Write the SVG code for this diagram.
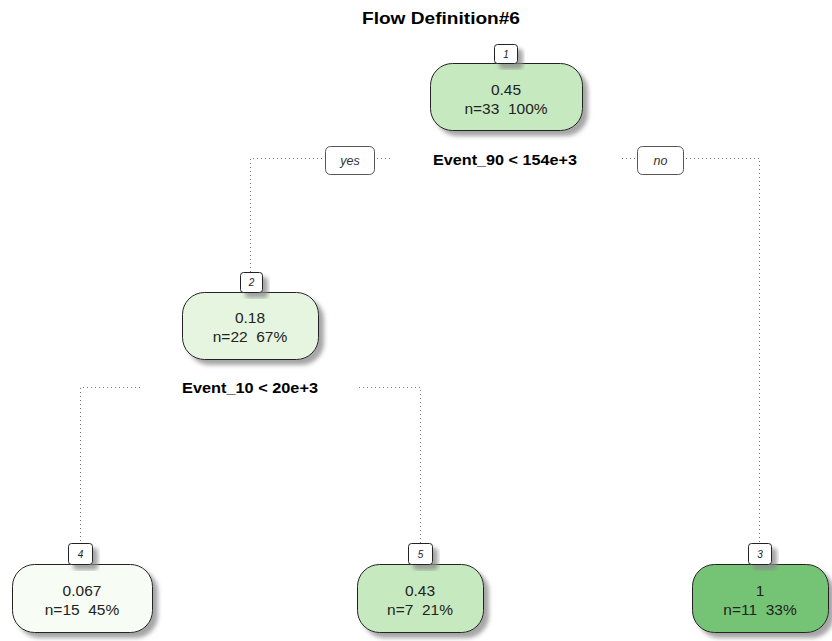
<svg xmlns="http://www.w3.org/2000/svg" width="832" height="641" viewBox="0 0 832 641">
  <defs>
    <filter id="shadow" x="-20%" y="-20%" width="150%" height="150%">
      <feGaussianBlur in="SourceAlpha" stdDeviation="2"/>
      <feOffset dx="5" dy="5" result="b"/>
      <feFlood flood-color="#888" flood-opacity="0.75"/>
      <feComposite in2="b" operator="in" result="s"/>
      <feMerge><feMergeNode in="s"/><feMergeNode in="SourceGraphic"/></feMerge>
    </filter>
  </defs>
  <style>
    text { white-space: pre; }
    .title { font-family: "Liberation Sans", Arial, sans-serif; font-size: 17px; font-weight: bold; fill: #000; text-anchor: middle; }
    .box { stroke: #222; stroke-width: 1; filter: url(#shadow); }
    .val { font-family: "Liberation Sans", Arial, sans-serif; font-size: 15.5px; fill: #222; text-anchor: middle; }
    .tag { fill: #fff; stroke: #222; stroke-width: 1; filter: url(#shadow); }
    .tagtxt { font-family: "Liberation Sans", Arial, sans-serif; font-size: 10px; font-style: italic; fill: #222; text-anchor: middle; }
    .split { font-family: "Liberation Sans", Arial, sans-serif; font-size: 15px; font-weight: bold; fill: #000; text-anchor: middle; }
    .edge { fill: none; stroke: #777; stroke-width: 1; stroke-dasharray: 1 3; }
    .yn { fill: #fff; stroke: #555; stroke-width: 1; }
    .yntxt { font-family: "Liberation Sans", Arial, sans-serif; font-size: 12.5px; font-style: italic; fill: #333; text-anchor: middle; }
  </style>

  <text class="title" x="441" y="24" textLength="158" lengthAdjust="spacingAndGlyphs">Flow Definition#6</text>

  <g id="connectors">
    <polyline class="edge" points="390,158.5 250.5,158.5 250.5,272"/>
    <polyline class="edge" points="622,158.5 759.5,158.5 759.5,543"/>
    <polyline class="edge" points="140,387.5 80.5,387.5 80.5,543"/>
    <polyline class="edge" points="359,387.5 420.5,387.5 420.5,543"/>
    <g id="edge-yes">
      <rect class="yn" x="325.5" y="146.5" width="49" height="28" rx="5"/>
      <text class="yntxt" x="350" y="165">yes</text>
    </g>
    <g id="edge-no">
      <rect class="yn" x="637.5" y="146.5" width="46" height="28" rx="5"/>
      <text class="yntxt" x="660.5" y="165">no</text>
    </g>
  </g>

  <g id="node1">
    <rect class="box" x="430.5" y="63.5" width="152" height="67" rx="22" fill="#c7e9c0"/>
    <rect class="tag" x="494.5" y="44.5" width="23" height="19" rx="3"/>
    <text class="tagtxt" x="506" y="58">1</text>
    <text class="val" x="506" y="95">0.45</text>
    <text class="val" x="506" y="114">n=33  100%</text>
    <text class="split" x="505" y="165" textLength="144" lengthAdjust="spacingAndGlyphs">Event_90 &lt; 154e+3</text>
  </g>

  <g id="node2">
    <rect class="box" x="182.5" y="292.5" width="136" height="67" rx="22" fill="#e5f5e0"/>
    <rect class="tag" x="240.5" y="272.5" width="22" height="20" rx="3"/>
    <text class="tagtxt" x="251.5" y="286">2</text>
    <text class="val" x="250" y="323">0.18</text>
    <text class="val" x="250" y="342">n=22  67%</text>
    <text class="split" x="250" y="393" textLength="136" lengthAdjust="spacingAndGlyphs">Event_10 &lt; 20e+3</text>
  </g>

  <g id="node4">
    <rect class="box" x="12.5" y="564.5" width="140" height="68" rx="22" fill="#f7fcf5"/>
    <rect class="tag" x="68.5" y="543.5" width="24" height="21" rx="3"/>
    <text class="tagtxt" x="80.5" y="558">4</text>
    <text class="val" x="82" y="596">0.067</text>
    <text class="val" x="82" y="615">n=15  45%</text>
  </g>

  <g id="node5">
    <rect class="box" x="357.5" y="564.5" width="126" height="68" rx="22" fill="#c7e9c0"/>
    <rect class="tag" x="408.5" y="543.5" width="24" height="21" rx="3"/>
    <text class="tagtxt" x="420.5" y="558">5</text>
    <text class="val" x="420" y="596">0.43</text>
    <text class="val" x="420" y="615">n=7  21%</text>
  </g>

  <g id="node3">
    <rect class="box" x="692.5" y="564.5" width="136" height="68" rx="22" fill="#74c476"/>
    <rect class="tag" x="748.5" y="543.5" width="23" height="21" rx="3"/>
    <text class="tagtxt" x="760" y="558">3</text>
    <text class="val" x="760" y="596">1</text>
    <text class="val" x="760" y="615">n=11  33%</text>
  </g>
</svg>
